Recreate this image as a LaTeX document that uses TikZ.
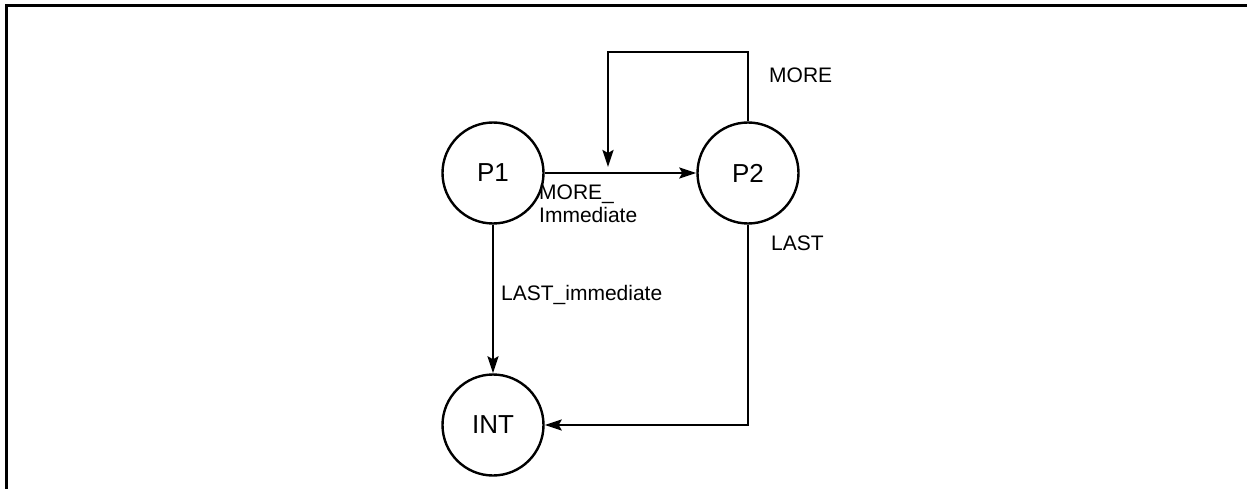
\documentclass[tikz,border=0pt]{standalone}
\usepackage{fontspec}
\setmainfont{Liberation Sans}
\usetikzlibrary{arrows.meta}
\tikzset{
  state/.style={draw, circle, line width=2.4pt, minimum size=101pt, inner sep=0pt,
    font=\fontsize{26}{30}\selectfont},
  edge/.style={line width=2.4pt, -{Stealth[length=17pt,width=11pt,inset=3pt]}},
  lbl/.style={inner sep=0pt, anchor=west, align=left,
    font=\fontsize{21}{23}\selectfont}
}
\begin{document}
\begin{tikzpicture}[x=1pt,y=-1pt]
\useasboundingbox (0,0) rectangle (1247,489);
\draw[line width=3pt] (6,489) -- (6,6) -- (1247,6);

\node[state] (p1) at (493,173) {P1};
\node[state] (p2) at (748,173) {P2};
\node[state] (int) at (493,425) {INT};

\coordinate (loop) at (608,52);
\coordinate (loopend) at (608,167);

\draw[edge] (p1) -- (p2);
\draw[edge] (p2.north) |- (loop) -- (loopend);
\draw[edge] (p1.south) -- (int.north);
\draw[edge] (p2.south) |- (int.east);

\node[lbl] (more) at (769,75) {MORE};
\node[lbl] (moreimm) at (539,204) {MORE\_\\Immediate};
\node[lbl] (lastimm) at (501,295) {LAST\_immediate};
\node[lbl] (last) at (771,243) {LAST};
\end{tikzpicture}
\end{document}
